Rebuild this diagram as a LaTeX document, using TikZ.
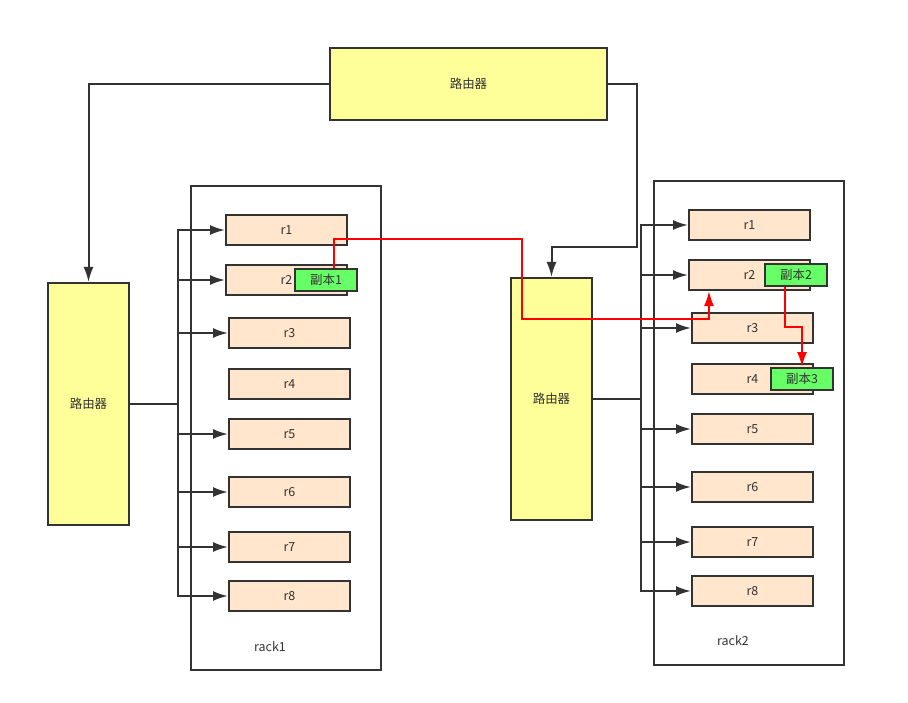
\documentclass[tikz,border=0pt]{standalone}
\usepackage{fontspec}
\setmainfont{Noto Sans CJK SC}
\usetikzlibrary{arrows.meta,positioning}
\definecolor{linegray}{HTML}{333333}
\definecolor{routerfill}{HTML}{FFFF99}
\definecolor{slotfill}{HTML}{FFE6CC}
\definecolor{copyfill}{HTML}{66FF66}

\begin{document}
\begin{tikzpicture}[x=1bp,y=-1bp,line width=2bp,draw=linegray,
		>={Latex[length=15bp,width=10bp]},
		every node/.style={text=linegray,font=\fontsize{12.5}{14}\selectfont},
		router/.style={rectangle,draw=linegray,fill=routerfill,inner sep=0pt},
		rack/.style={rectangle,draw=linegray,fill=none,minimum width=190bp,minimum height=484bp,inner sep=0pt},
		slot/.style={rectangle,draw=linegray,fill=slotfill,minimum width=121bp,minimum height=30bp,inner sep=0pt},
		copybox/.style={rectangle,draw=linegray,fill=copyfill,minimum width=62bp,minimum height=22bp,inner sep=0pt},
		link/.style={draw=linegray,->},
		copyline/.style={draw=red,->}]
	\useasboundingbox (0,0) rectangle (908,703);

	% routers
	\node[router,minimum width=277bp,minimum height=72bp] (top) at (468.5,84) {路由器};
	\node[router,minimum width=81bp,minimum height=242bp] (left) at (88.5,404) {路由器};
	\node[router,minimum width=81bp,minimum height=242bp] (right) at (551.5,399) {路由器};

	% racks
	\node[rack] (rack1) at (286,428) {};
	\node[rack] (rack2) at (749,423) {};
	\node (lab1) at (270,647) {rack1};
	\node (lab2) at (733,641) {rack2};

	% machines
	\foreach \n/\x/\y in {1/286.5/230,2/286.5/280,3/289.5/333,4/289.5/384,5/289.5/434,6/289.5/492,7/289.5/547,8/289.5/596}
		\node[slot] (a\n) at (\x,\y) {r\n};
	\foreach \n/\x/\y in {1/749.5/225,2/749.5/275,3/752.5/328,4/752.5/379,5/752.5/429,6/752.5/487,7/752.5/542,8/752.5/591}
		\node[slot] (b\n) at (\x,\y) {r\n};

	\node[copybox] (c1) at (326,280) {副本1};
	\node[copybox] (c2) at (796,275) {副本2};
	\node[copybox] (c3) at (802,379) {副本3};

	% wiring
	\coordinate (hub1) at (178,404);
	\coordinate (hub2) at (641,399);
	\coordinate (bend) at (637,247);
	\draw[link] (top.west) -| (left.north);
	\draw[link] (top.east) -| (bend) -| (right.north);
	\foreach \n in {1,2,3,5,6,7,8}
		\draw[link] (left.east) -- (hub1) |- (a\n.west);
	\foreach \n in {1,2,3,5,6,7,8}
		\draw[link] (right.east) -- (hub2) |- (b\n.west);

	% copies
	\coordinate (x1) at (522,239);
	\coordinate (x2) at (522,319);
	\draw[copyline] ([xshift=8bp]c1.north) |- (x1) -- (x2) -| ([xshift=-40.5bp]b2.south);
	\draw[copyline] ([xshift=-11bp]c2.south) -- ++(0,40) -| (c3.north);
\end{tikzpicture}
\end{document}
